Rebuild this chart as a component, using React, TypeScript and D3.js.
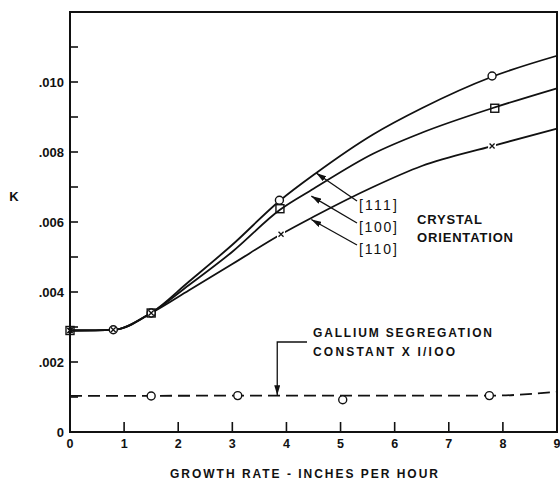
import React from 'react';
import * as d3 from 'd3';

type Pt = [number, number];

// curves (growth rate, K)
const curve111: Pt[] = [[0, 0.0029], [0.8, 0.00292], [1.5, 0.0034], [2.2, 0.0043], [3, 0.00535], [3.87, 0.0066], [4.55, 0.0074], [5.6, 0.0085], [6.5, 0.00925], [7.8, 0.01015], [9, 0.01075]];
const curve100: Pt[] = [[0, 0.0029], [0.8, 0.00292], [1.5, 0.0034], [2.2, 0.0042], [3, 0.00515], [3.88, 0.00635], [4.5, 0.00695], [5.6, 0.00795], [6.5, 0.00855], [7.8, 0.00925], [9, 0.00982]];
const curve110: Pt[] = [[0, 0.0029], [0.8, 0.00292], [1.5, 0.0034], [2.2, 0.00405], [3, 0.0048], [3.9, 0.00565], [4.5, 0.00615], [5.6, 0.007], [6.5, 0.0076], [7.8, 0.00817], [9, 0.00867]];
const galliumLine: Pt[] = [[0, 0.00103], [5, 0.00104], [7.8, 0.00104], [9, 0.00115]];

// measured points
const points111: Pt[] = [[0.8, 0.00292], [1.5, 0.0034], [3.87, 0.00662], [7.8, 0.01017]];
const points100: Pt[] = [[0, 0.0029], [1.5, 0.0034], [3.88, 0.00638], [7.85, 0.00925]];
const points110: Pt[] = [[0, 0.0029], [0.8, 0.00292], [1.5, 0.0034], [3.9, 0.00565], [7.8, 0.00817]];
const galliumPoints: Pt[] = [[1.5, 0.00103], [3.1, 0.00104], [5.04, 0.00092], [7.75, 0.00104]];

const xTicks = [0, 1, 2, 3, 4, 5, 6, 7, 8, 9];
const yLabels = [0, 0.002, 0.004, 0.006, 0.008, 0.01];
const yTicks = [0.001, 0.002, 0.003, 0.004, 0.005, 0.006, 0.007, 0.008, 0.009, 0.01, 0.011];

const orientationLabels = [
  { text: '[111]', tip: [4.55, 0.0074] as Pt, ly: 205 },
  { text: '[100]', tip: [4.46, 0.00674] as Pt, ly: 227 },
  { text: '[110]', tip: [4.46, 0.00607] as Pt, ly: 249 },
];

const font = '"Liberation Sans", Arial, sans-serif';

const App: React.FC = () => {
  const width = 560;
  const height = 481;
  const x = d3.scaleLinear().domain([0, 9]).range([70, 557]);
  const y = d3.scaleLinear().domain([0, 0.012]).range([432, 12]);

  const line = d3.line<Pt>().x(d => x(d[0])).y(d => y(d[1])).curve(d3.curveMonotoneX);
  const fmt = (v: number) => (v === 0 ? '0' : d3.format('.3f')(v).replace(/^0/, ''));

  const circle = (p: Pt, i: number, key: string) => (
    <circle key={key + i} cx={x(p[0])} cy={y(p[1])} r={4} fill="#fff" stroke="#111" strokeWidth={1.4} />
  );
  const square = (p: Pt, i: number, key: string) => (
    <rect key={key + i} x={x(p[0]) - 4} y={y(p[1]) - 4} width={8} height={8} fill="none" stroke="#111" strokeWidth={1.4} />
  );
  const cross = (p: Pt, i: number, key: string) => {
    const cx = x(p[0]);
    const cy = y(p[1]);
    return (
      <g key={key + i}>
        <rect x={cx - 4} y={cy - 4} width={8} height={8} fill="#fff" opacity={p[0] > 3 ? 1 : 0} />
        <path d={`M${cx - 2.5},${cy - 2.5}L${cx + 2.5},${cy + 2.5}M${cx + 2.5},${cy - 2.5}L${cx - 2.5},${cy + 2.5}`} stroke="#111" strokeWidth={1.3} />
      </g>
    );
  };

  const gx = x(3.83);

  return (
    <svg width={width} height={height} style={{ position: 'absolute', left: 0, top: 0, background: '#fff' }} fontFamily={font} fontWeight="bold">
      <defs>
        <marker id="arrow" viewBox="0 0 10 6" refX="10" refY="3" markerWidth="10" markerHeight="6" markerUnits="userSpaceOnUse" orient="auto">
          <path d="M0,0L10,3L0,6Z" fill="#111" />
        </marker>
      </defs>

      {/* frame */}
      <path d={`M${x(0)},${y(0.012)}H${x(9)}V${y(0)}H${x(0)}Z`} fill="none" stroke="#111" strokeWidth={2} />

      {/* y ticks */}
      {yTicks.map(t => (
        <line key={'yt' + t} x1={x(0)} x2={x(0) + 8} y1={y(t)} y2={y(t)} stroke="#111" strokeWidth={1.6} />
      ))}
      {yLabels.map(t => (
        <text key={'yl' + t} x={64} y={y(t)} dy="0.35em" textAnchor="end" fontSize={13} fill="#111">{fmt(t)}</text>
      ))}

      {/* x ticks */}
      {xTicks.slice(1, 9).map(t => (
        <line key={'xt' + t} x1={x(t)} x2={x(t)} y1={y(0)} y2={y(0) - 10} stroke="#111" strokeWidth={1.6} />
      ))}
      {xTicks.map(t => (
        <text key={'xl' + t} x={x(t)} y={444} dy="0.35em" textAnchor="middle" fontSize={12.5} fill="#111">{t}</text>
      ))}

      <text x={14} y={196} dy="0.35em" textAnchor="middle" fontSize={13} fill="#111">K</text>
      <text x={170} y={474} dy="0.35em" fontSize={12} fill="#111" textLength={268} lengthAdjust="spacing">GROWTH  RATE - INCHES  PER  HOUR</text>

      {/* curves */}
      {[curve111, curve100, curve110].map((c, i) => (
        <path key={'c' + i} d={line(c) || ''} fill="none" stroke="#111" strokeWidth={1.8} />
      ))}
      <path d={line(galliumLine) || ''} fill="none" stroke="#111" strokeWidth={1.8} strokeDasharray="12,6" />

      {/* markers */}
      {points110.map((p, i) => cross(p, i, 'x'))}
      {points100.map((p, i) => square(p, i, 's'))}
      {points111.map((p, i) => circle(p, i, 'c'))}
      {points110.slice(0, 3).map((p, i) => cross(p, i, 'xx'))}
      {galliumPoints.map((p, i) => circle(p, i, 'g'))}

      {/* orientation annotations */}
      {orientationLabels.map(o => (
        <g key={o.text}>
          <line x1={357} y1={o.ly - 4} x2={x(o.tip[0])} y2={y(o.tip[1])} stroke="#111" strokeWidth={1.3} markerEnd="url(#arrow)" />
          <text x={359} y={o.ly} dy="0.35em" fontSize={14} fontWeight="normal" fill="#111" textLength={38} lengthAdjust="spacing">{o.text}</text>
        </g>
      ))}
      <text x={417} y={219} dy="0.35em" fontSize={13} fill="#111" textLength={65} lengthAdjust="spacing">CRYSTAL</text>
      <text x={417} y={237} dy="0.35em" fontSize={13} fill="#111" textLength={96} lengthAdjust="spacing">ORIENTATION</text>

      {/* gallium annotation */}
      <path d={`M307,342H${gx}V${y(0.00105)}`} fill="none" stroke="#111" strokeWidth={1.3} markerEnd="url(#arrow)" />
      <text x={313} y={333} dy="0.35em" fontSize={12} fill="#111" textLength={179} lengthAdjust="spacing">GALLIUM  SEGREGATION</text>
      <text x={313} y={352} dy="0.35em" fontSize={12} fill="#111" textLength={142} lengthAdjust="spacing">CONSTANT  X  I/IOO</text>
    </svg>
  );
};

export default App;
